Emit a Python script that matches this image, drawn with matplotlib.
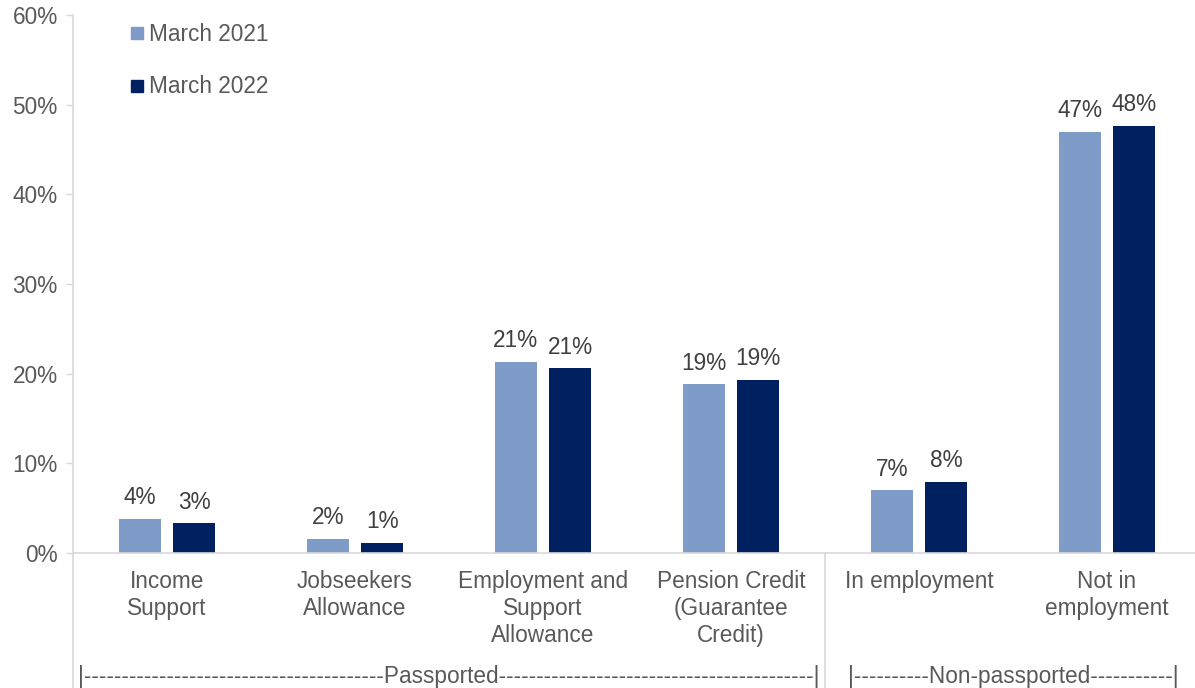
import numpy as np
import matplotlib
matplotlib.use("Agg")
import matplotlib.pyplot as plt
from matplotlib.lines import Line2D

plt.rcParams['font.family'] = ['Liberation Sans', 'DejaVu Sans']

# Share of claimants by benefit type
categories = ["Income\nSupport", "Jobseekers\nAllowance", "Employment and\nSupport\nAllowance",
              "Pension Credit\n(Guarantee\nCredit)", "In employment", "Not in\nemployment"]
march_2021 = [3.8, 1.6, 21.3, 18.8, 7.0, 47.0]
march_2022 = [3.3, 1.1, 20.6, 19.3, 7.9, 47.6]
series_names = ["March 2021", "March 2022"]
yticks = [0, 10, 20, 30, 40, 50, 60]

light = '#7F9CC8'
dark = '#002060'
grey_axis = '#D9D9D9'
txt = '#595959'
fs = 16.3

fig = plt.figure(figsize=(11.95, 6.88), dpi=100)
ax = fig.add_axes([73 / 1195, 135 / 688, 1128 / 1195, 538 / 688])

x = np.arange(len(categories))
w = 0.223
off = 0.144
b1 = ax.bar(x - off, march_2021, w, color=light, label=series_names[0])
b2 = ax.bar(x + off, march_2022, w, color=dark, label=series_names[1])

for bars, vals in ((b1, march_2021), (b2, march_2022)):
    for rect, v in zip(bars, vals):
        ax.annotate(f"{v:.0f}%", (rect.get_x() + rect.get_width() / 2, v),
                    xytext=(0, 7), textcoords='offset points',
                    ha='center', va='bottom', fontsize=fs, color='#404040')

ax.set_xlim(-0.5, len(categories) - 0.5)
ax.set_ylim(0, 60)
ax.set_yticks(yticks)
ax.set_yticklabels([f"{t}%" for t in yticks])
ax.set_xticks(x)
ax.set_xticklabels(categories, linespacing=1.23)
ax.tick_params(axis='x', length=0, pad=12, labelsize=fs, labelcolor=txt)
ax.tick_params(axis='y', length=5, width=1, color=grey_axis, pad=6,
               labelsize=fs, labelcolor=txt)

for s in ('top', 'right', 'left'):
    ax.spines[s].set_visible(False)
ax.spines['bottom'].set_color(grey_axis)
ax.spines['bottom'].set_linewidth(1.2)

# vertical rules running down through the label area
ybot = -135 / 538 * 60
ax.plot([-0.5, -0.5], [ybot, 60], color=grey_axis, lw=1.2, clip_on=False)
ax.plot([3.5, 3.5], [ybot, 0], color=grey_axis, lw=1.2, clip_on=False)

# group brackets
ax.text(1.5, ybot + 1.3, "|" + "-" * 40 + "Passported" + "-" * 42 + "|",
        ha='center', va='center', fontsize=fs, color=txt)
ax.text(4.5, ybot + 1.3, "|" + "-" * 10 + "Non-passported" + "-" * 11 + "|",
        ha='center', va='center', fontsize=fs, color=txt)

handles = [Line2D([], [], marker='s', ls='none', markersize=9, color=c) for c in (light, dark)]
ax.legend(handles, series_names, loc='upper left', bbox_to_anchor=(130 / 1195, 1 - 23 / 688),
          bbox_transform=fig.transFigure, frameon=False, fontsize=fs, labelcolor=txt,
          handlelength=0.6, handletextpad=0.25, labelspacing=1.3, borderpad=0, borderaxespad=0)

fig.savefig("out.png", dpi=100)
